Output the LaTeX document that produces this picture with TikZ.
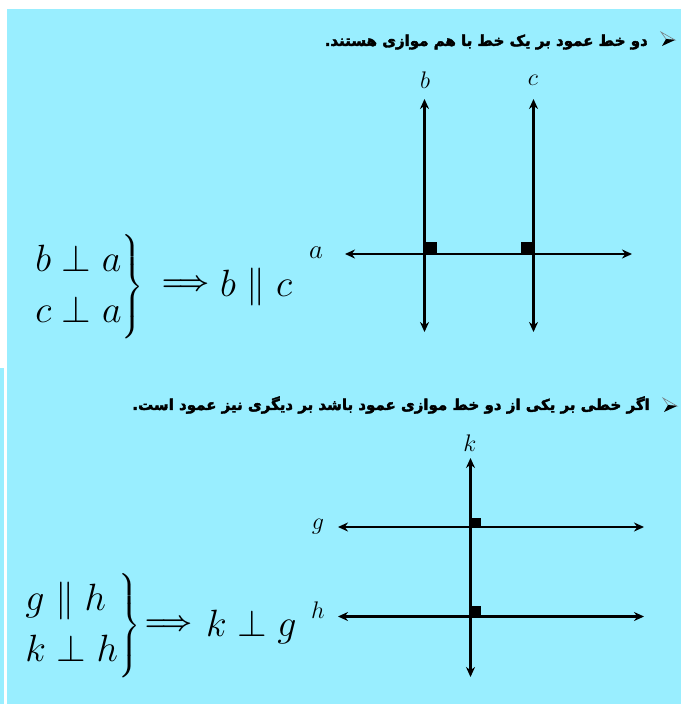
\RequirePackage{fix-cm}
\documentclass[tikz,border=0pt]{standalone}
\usepackage{amsmath}
\usepackage{fontspec}
\usetikzlibrary{arrows.meta}
\TeXXeTstate=1
\newfontfamily\arabicfont[Script=Arabic,FakeBold=2.5]{DejaVu Sans}
\definecolor{bg}{RGB}{153,238,255}
\definecolor{tipgray}{RGB}{120,130,135}
\begin{document}
\begin{tikzpicture}[x=1pt,y=-1pt,
  ln/.style={line width=2.5pt,{Stealth[length=10pt,width=9pt]}-{Stealth[length=10pt,width=9pt]}},
  lbl/.style={font=\fontsize{24}{28}\selectfont,inner sep=0pt},
  title/.style={font=\arabicfont\bfseries\fontsize{15}{18}\selectfont,inner sep=0pt,anchor=east},
  bigmath/.style={font=\fontsize{38}{46}\selectfont,inner sep=0pt},
  imp/.style={font=\fontsize{27}{30}\selectfont\boldmath,inner sep=0pt,anchor=west},
  sq/.style={fill=black}]
\useasboundingbox (0,0) rectangle (681,704);
\fill[white] (0,0) rectangle (681,704);
\fill[bg] (7,9) rectangle (681,704);
\fill[bg] (0,368) rectangle (4,704);

% ---- top section ----
\node[title] (t1) at (648,42) {\beginR دو خط عمود بر یک خط با هم موازی هستند.\endR};
\draw[tipgray,line width=0.6pt] (661,32) -- (675,40) -- (666,39) -- cycle;
\fill[black] (666,39) -- (675,40) -- (662,46) -- cycle;

\node[lbl] (lb) at (425,80) {$b$};
\node[lbl] (lc) at (533,80) {$c$};
\node[lbl,font=\fontsize{27}{30}\selectfont] (la) at (316,253) {$a$};

\coordinate (bt) at (424.5,99);
\coordinate (bb) at (424.5,332);
\coordinate (ct) at (533.5,99);
\coordinate (cb) at (533.5,332);
\coordinate (al) at (345,254);
\coordinate (ar) at (632,254);
\draw[ln] (bt) -- (bb);
\draw[ln] (ct) -- (cb);
\draw[ln] (al) -- (ar);
\fill[sq] (424.5,242) rectangle (437,254);
\fill[sq] (521,242) rectangle (533.5,254);

\node[bigmath,anchor=west] (m1) at (34,287)
  {$\renewcommand{\arraystretch}{1.1}\left.\begin{array}{@{}l@{}} b \perp a\\ c \perp a\end{array}\right\}$};
\node[imp] (i1) at (162,285) {$\Longrightarrow$};
\node[bigmath,anchor=west] (r1) at (220,287) {$b \parallel c$};

% ---- bottom section ----
\node[title] (t2) at (650,405) {\beginR اگر خطی بر یکی از دو خط موازی عمود باشد بر دیگری نیز عمود است.\endR};
\draw[tipgray,line width=0.6pt] (663,398) -- (677,406) -- (668,405) -- cycle;
\fill[black] (668,405) -- (677,406) -- (664,412) -- cycle;

\node[lbl] (lk) at (470,443) {$k$};
\node[lbl] (lg) at (318,527) {$g$};
\node[lbl] (lh) at (318,610) {$h$};

\coordinate (kt) at (470.5,458);
\coordinate (kb) at (470.5,677);
\coordinate (gl) at (338,527);
\coordinate (gr) at (644,527);
\coordinate (hl) at (338,616.5);
\coordinate (hr) at (644,616.5);
\draw[ln] (kt) -- (kb);
\draw[ln] (gl) -- (gr);
\draw[ln] (hl) -- (hr);
\fill[sq] (470.5,518) rectangle (481,527);
\fill[sq] (470.5,606) rectangle (481,616.5);

\node[bigmath,anchor=west] (m2) at (24,626)
  {$\renewcommand{\arraystretch}{1.1}\left.\begin{array}{@{}l@{}} g \parallel h\\ k \perp h\end{array}\right\}$};
\node[imp] (i2) at (145,625) {$\Longrightarrow$};
\node[bigmath,anchor=west] (r2) at (206,627) {$k \perp g$};
\end{tikzpicture}
\end{document}
